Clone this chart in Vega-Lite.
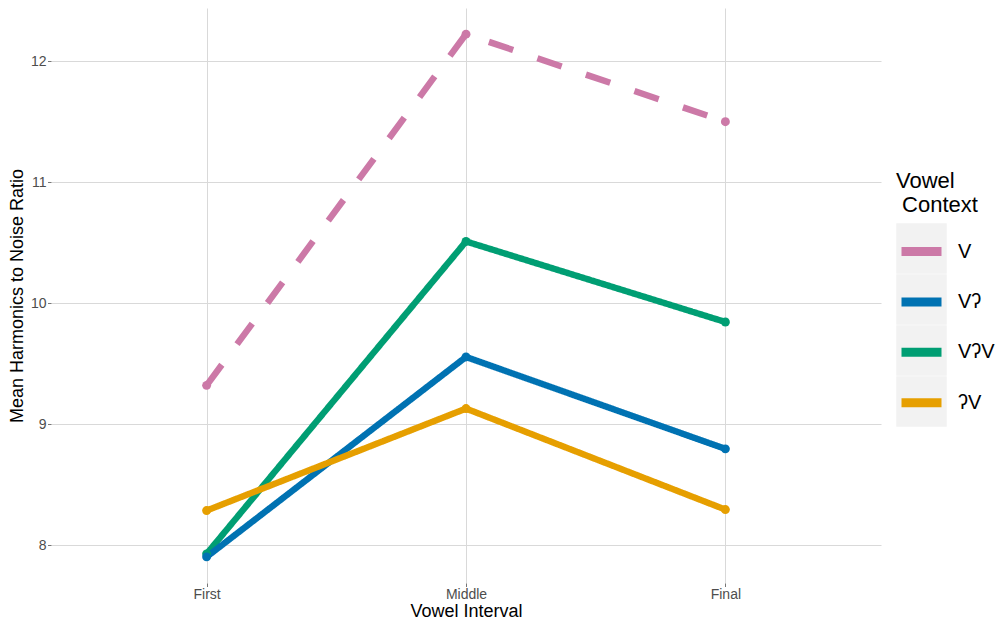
{
  "$schema": "https://vega.github.io/schema/vega-lite/v6.json",
  "width": 830,
  "height": 575,
  "autosize": "none",
  "padding": {"left": 51, "top": 8, "right": 121, "bottom": 39},
  "background": "white",
  "config": {
    "view": {"stroke": null},
    "font": "Liberation Sans",
    "axis": {
      "domain": false,
      "labelColor": "#4d4d4d",
      "labelFontSize": 14,
      "titleFontSize": 18,
      "titleFontWeight": "normal",
      "titleColor": "black",
      "tickColor": "#777777",
      "tickSize": 3.5,
      "gridColor": "#d9d9d9",
      "gridWidth": 1
    }
  },
  "data": {
    "values": [
      {"Interval": "First", "Context": "V", "Key": "V", "HNR": 9.322},
      {"Interval": "Middle", "Context": "V", "Key": "V", "HNR": 12.226},
      {"Interval": "Final", "Context": "V", "Key": "V", "HNR": 11.502},
      {"Interval": "First", "Context": "VʔV", "Key": "VʔV", "HNR": 7.929},
      {"Interval": "Middle", "Context": "VʔV", "Key": "VʔV", "HNR": 10.512},
      {"Interval": "Final", "Context": "VʔV", "Key": "VʔV", "HNR": 9.846},
      {"Interval": "First", "Context": "Vʔ", "Key": "Vʔ", "HNR": 7.904},
      {"Interval": "Middle", "Context": "Vʔ", "Key": "Vʔ", "HNR": 9.557},
      {"Interval": "Final", "Context": "Vʔ", "Key": "Vʔ", "HNR": 8.797},
      {"Interval": "First", "Context": "ʔV", "Key": "ʔV", "HNR": 8.287},
      {"Interval": "Middle", "Context": "ʔV", "Key": "ʔV", "HNR": 9.13},
      {"Interval": "Final", "Context": "ʔV", "Key": "ʔV", "HNR": 8.295}
    ]
  },
  "encoding": {
    "x": {
      "field": "Interval",
      "type": "ordinal",
      "scale": {"type": "point", "padding": 0.6, "domain": ["First", "Middle", "Final"]},
      "axis": {"title": "Vowel Interval", "labelAngle": 0, "grid": true, "labelPadding": 1, "titlePadding": 1}
    },
    "y": {
      "field": "HNR",
      "type": "quantitative",
      "scale": {"domain": [7.688, 12.442], "nice": false, "zero": false},
      "axis": {
        "title": "Mean Harmonics to Noise Ratio",
        "values": [8, 8.5, 9, 9.5, 10, 10.5, 11, 11.5, 12],
        "format": "d",
        "labelExpr": "datum.value % 1 === 0 ? datum.label : ''",
        "gridColor": {"condition": {"test": "datum.value % 1 !== 0", "value": "#ebebeb"}, "value": "#d9d9d9"},
        "tickOpacity": {"condition": {"test": "datum.value % 1 !== 0", "value": 0}, "value": 1},
        "labelPadding": 1.5,
        "titlePadding": 4
      }
    }
  },
  "layer": [
    {
      "mark": {"type": "point", "filled": true, "color": "#f2f2f2", "opacity": 0, "size": 10},
      "encoding": {
        "shape": {
          "field": "Key",
          "type": "nominal",
          "scale": {"range": ["square", "square", "square", "square"]},
          "legend": {
            "orient": "none",
            "legendX": 845,
            "legendY": 163,
            "title": ["Vowel", "\u200b\u00a0Context"],
            "titleFontSize": 22,
            "titleFontWeight": "normal",
            "titleColor": "black",
            "titleLineHeight": 24,
            "titlePadding": 6,
            "symbolSize": 2550,
            "symbolFillColor": "#f2f2f2",
            "symbolStrokeColor": "#f2f2f2",
            "symbolStrokeWidth": 0,
            "symbolOpacity": 1,
            "labelExpr": "''",
            "rowPadding": 0,
            "padding": 0,
            "zindex": 0
          }
        }
      }
    },
    {
      "mark": {"type": "line", "strokeWidth": 6.4, "strokeCap": "butt"},
      "encoding": {
        "color": {
          "field": "Context",
          "type": "nominal",
          "scale": {"domain": ["V", "Vʔ", "VʔV", "ʔV"], "range": ["#CC79A7", "#0072B2", "#009E73", "#E69F00"]},
          "legend": {
            "orient": "none",
            "legendX": 846,
            "legendY": 219,
            "title": null,
            "symbolType": "stroke",
            "symbolSize": 1600,
            "symbolStrokeWidth": 9,
            "labelFontSize": 20,
            "labelColor": "black",
            "labelOffset": 12,
            "rowPadding": 7.4,
            "padding": 0,
            "zindex": 1
          }
        },
        "strokeDash": {
          "condition": {"test": "datum.Context !== 'V'", "value": [1, 0]},
          "value": [25.6, 25.6]
        }
      }
    },
    {
      "mark": {"type": "point", "filled": true, "size": 80, "opacity": 1},
      "encoding": {
        "color": {
          "field": "Context",
          "type": "nominal",
          "scale": {"domain": ["V", "Vʔ", "VʔV", "ʔV"], "range": ["#CC79A7", "#0072B2", "#009E73", "#E69F00"]},
          "legend": {
            "orient": "none",
            "legendX": 846,
            "legendY": 219,
            "title": null,
            "symbolType": "stroke",
            "symbolSize": 1600,
            "symbolStrokeWidth": 9,
            "labelFontSize": 20,
            "labelColor": "black",
            "labelOffset": 12,
            "rowPadding": 7.4,
            "padding": 0,
            "zindex": 1
          }
        }
      }
    }
  ]
}
